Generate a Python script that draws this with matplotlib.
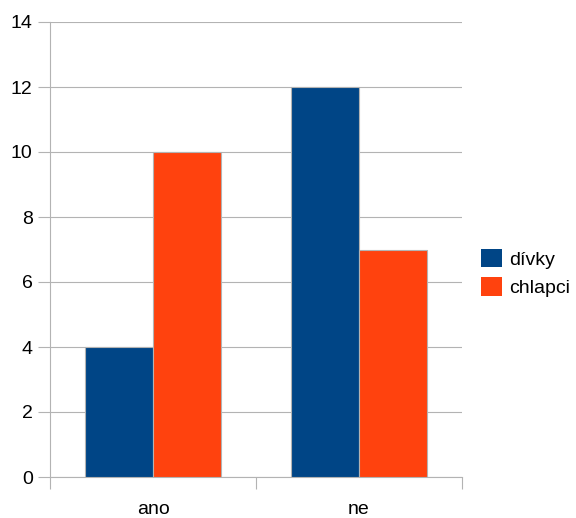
import numpy as np
import matplotlib.pyplot as plt
from matplotlib.patches import Patch

categories = ['ano', 'ne']
divky = [4, 12]
chlapci = [10, 7]
series_names = ['dívky', 'chlapci']
colors = ['#004586', '#ff420e']

plt.rcParams['font.family'] = ['Liberation Sans', 'DejaVu Sans']

fig = plt.figure(figsize=(5.76, 5.18), dpi=100)
ax = fig.add_axes([50 / 576, 1 - 477 / 518, 412 / 576, 455 / 518])

x = np.arange(len(categories))
w = 0.33
ax.bar(x - w / 2, divky, w, color=colors[0], edgecolor='#b3b3b3', linewidth=0.8, zorder=3)
ax.bar(x + w / 2, chlapci, w, color=colors[1], edgecolor='#b3b3b3', linewidth=0.8, zorder=3)

ax.set_xlim(-0.5, 1.5)
ax.set_ylim(0, 14)
ax.set_yticks(range(0, 15, 2))
ax.yaxis.grid(True, color='#b3b3b3', linewidth=0.8, zorder=0)

ax.set_xticks([-0.5, 0.5, 1.5])
ax.set_xticklabels([])
ax.set_xticks(x, minor=True)
ax.set_xticklabels(categories, minor=True, fontsize=14)
ax.tick_params(axis='x', which='minor', length=0, pad=17)
ax.tick_params(axis='x', which='major', length=8.5, color='#b3b3b3', width=0.8)
ax.tick_params(axis='y', length=8.5, color='#b3b3b3', width=0.8, labelsize=14, pad=4)

for side in ['top', 'right']:
    ax.spines[side].set_visible(False)
for side in ['left', 'bottom']:
    ax.spines[side].set_color('#b3b3b3')
    ax.spines[side].set_linewidth(0.8)

handles = [Patch(facecolor=c, edgecolor='none') for c in colors]
fig.legend(handles, series_names, loc='center left', bbox_to_anchor=(481 / 576, 1 - 273 / 518),
           frameon=False, fontsize=14, handlelength=1.08, handleheight=1.08,
           handletextpad=0.36, labelspacing=0.45, borderpad=0, borderaxespad=0)

fig.savefig('out.png', dpi=100)
